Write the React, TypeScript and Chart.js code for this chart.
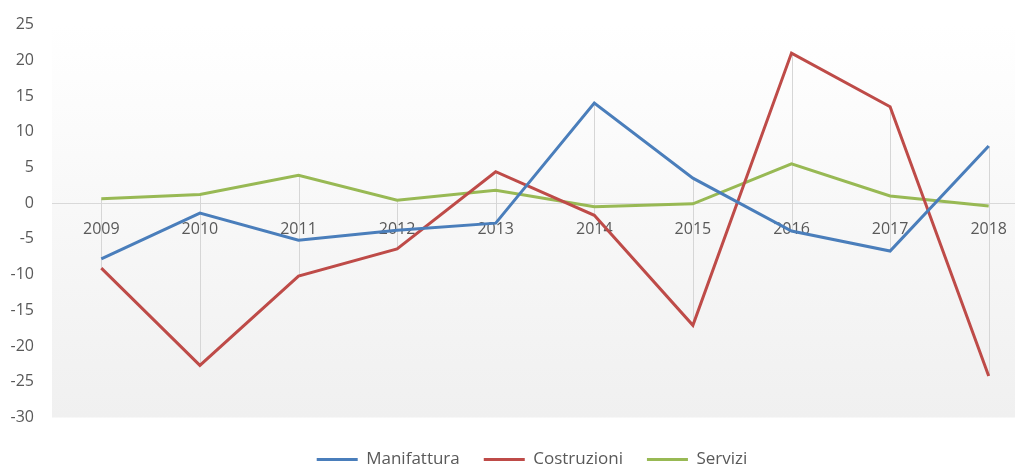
import { useEffect, useRef } from "react";
import { Chart, registerables } from "chart.js";

Chart.register(...registerables);

const categories = ["2009", "2010", "2011", "2012", "2013", "2014", "2015", "2016", "2017", "2018"];
const manifattura = [-7.8, -1.4, -5.2, -3.8, -2.8, 14.0, 3.5, -3.9, -6.7, 8.0];
const costruzioni = [-9.1, -22.7, -10.2, -6.4, 4.4, -1.7, -17.1, 21.0, 13.5, -24.2];
const servizi = [0.6, 1.2, 3.9, 0.4, 1.8, -0.5, -0.1, 5.5, 1.0, -0.4];
const seriesNames = ["Manifattura", "Costruzioni", "Servizi"];
const seriesColors = ["#4A7EBB", "#BE4B48", "#98B954"];
const yMin = -30;
const yMax = 25;
const yStep = 5;

const FONT = "'Open Sans', 'Liberation Sans', sans-serif";
const TEXT = "#595959";

const bgPlugin = {
  id: "plotBg",
  beforeDraw(chart: any) {
    const { ctx, chartArea } = chart;
    if (!chartArea) return;
    const g = ctx.createLinearGradient(0, chartArea.top, 0, chartArea.bottom);
    g.addColorStop(0, "#ffffff");
    g.addColorStop(1, "#f0f0f0");
    ctx.save();
    ctx.fillStyle = g;
    ctx.fillRect(chartArea.left, chartArea.top, chartArea.right - chartArea.left, chartArea.bottom - chartArea.top);
    ctx.restore();
  },
};

const hiLoPlugin = {
  id: "hiLo",
  beforeDatasetsDraw(chart: any) {
    const { ctx, scales } = chart;
    const x = scales.x;
    const y = scales.y;
    ctx.save();
    ctx.strokeStyle = "#d6d6d6";
    ctx.lineWidth = 1;
    categories.forEach((_, i) => {
      const vals = [manifattura[i], costruzioni[i], servizi[i]];
      const px = Math.round(x.getPixelForValue(i)) + 0.5;
      ctx.beginPath();
      ctx.moveTo(px, y.getPixelForValue(Math.max(...vals)));
      ctx.lineTo(px, y.getPixelForValue(Math.min(...vals)));
      ctx.stroke();
    });
    ctx.restore();
  },
};

export default function App() {
  const ref = useRef<HTMLCanvasElement>(null);

  useEffect(() => {
    if (!ref.current) return;
    const data = [manifattura, costruzioni, servizi];
    const chart = new Chart(ref.current, {
      type: "line",
      data: {
        labels: categories,
        datasets: seriesNames.map((name, k) => ({
          label: name,
          data: data[k],
          xAxisID: "x",
          yAxisID: "y",
          borderColor: seriesColors[k],
          backgroundColor: seriesColors[k],
          borderWidth: 3,
          pointRadius: 0,
          pointHoverRadius: 0,
          tension: 0,
          fill: false,
        })),
      },
      options: {
        responsive: false,
        animation: false,
        events: [],
        layout: { padding: { top: 16.5, right: 0, left: 0, bottom: 0 } },
        plugins: {
          tooltip: { enabled: false },
          legend: {
            position: "bottom",
            labels: {
              boxWidth: 41,
              boxHeight: 3,
              padding: 24,
              color: TEXT,
              font: { family: FONT, size: 17 },
              generateLabels(chart: any) {
                return chart.data.datasets.map((ds: any, i: number) => ({
                  text: ds.label,
                  fillStyle: ds.borderColor,
                  strokeStyle: ds.borderColor,
                  lineWidth: 0,
                  fontColor: TEXT,
                  hidden: false,
                  datasetIndex: i,
                }));
              },
            },
          },
        },
        scales: {
          x: {
            type: "category",
            offset: true,
            position: { y: 0 } as any,
            grid: { display: false, drawTicks: false },
            border: { display: true, color: "#d9d9d9", width: 1 },
            ticks: {
              color: TEXT,
              font: { family: FONT, size: 16 },
              padding: 17,
              maxRotation: 0,
              autoSkip: false,
            },
          },
          y: {
            type: "linear",
            min: yMin,
            max: yMax,
            position: "left",
            grid: { display: false, drawTicks: false },
            border: { display: false },
            ticks: {
              stepSize: yStep,
              color: TEXT,
              font: { family: FONT, size: 16 },
              padding: 18,
            },
            afterFit(s: any) {
              s.width = 44;
              s.paddingTop = 0;
              s.paddingBottom = 0;
            },
          },
          xPad: {
            type: "linear",
            axis: "x",
            position: "bottom",
            display: true,
            ticks: { display: false },
            grid: { display: false, drawTicks: false },
            border: { display: false },
            afterFit(s: any) {
              s.height = 9.5;
              s.paddingLeft = 0;
              s.paddingRight = 0;
            },
          } as any,
          yPad: {
            type: "linear",
            axis: "y",
            position: "right",
            display: true,
            ticks: { display: false },
            grid: { display: false, drawTicks: false },
            border: { display: false },
            afterFit(s: any) {
              s.width = 18;
              s.paddingTop = 0;
              s.paddingBottom = 0;
            },
          } as any,
        },
      },
      plugins: [bgPlugin, hiLoPlugin],
    });
    return () => chart.destroy();
  }, []);

  return (
    <div style={{ width: 1015, height: 458, overflow: "hidden" }}>
      <canvas ref={ref} width={1048} height={470} style={{ display: "block", width: 1048, height: 470 }} />
    </div>
  );
}
